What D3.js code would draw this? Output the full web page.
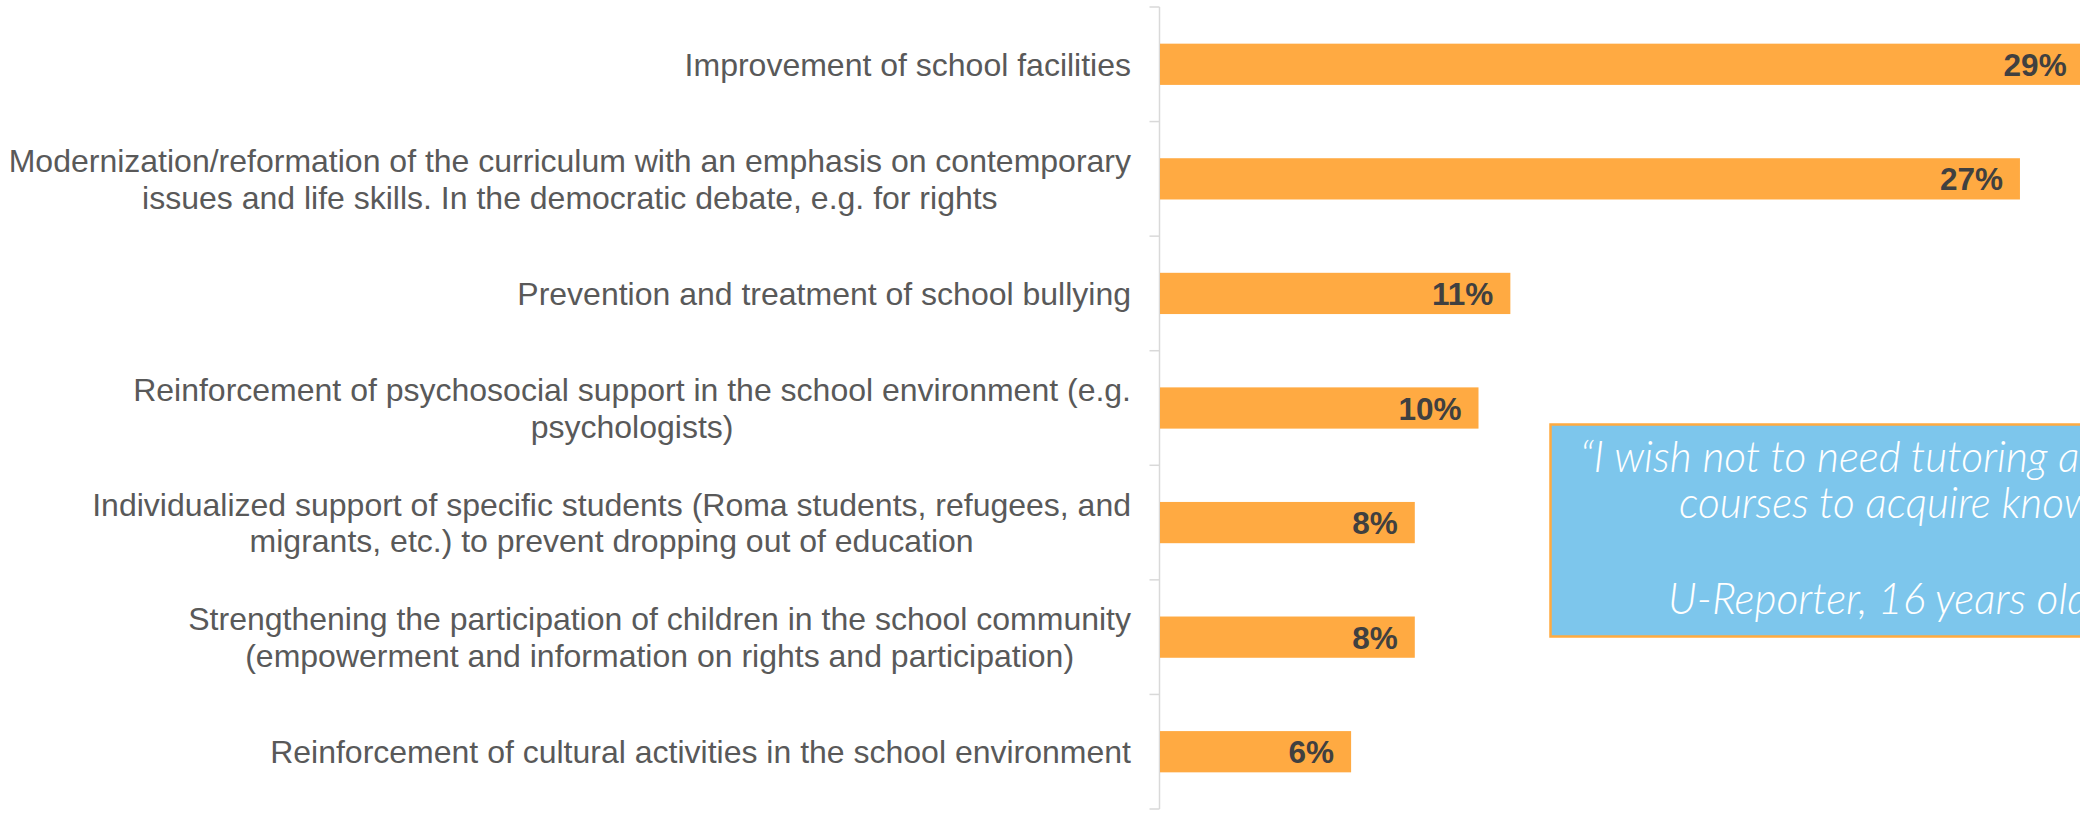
<!DOCTYPE html>
<html>
<head>
<meta charset="utf-8">
<script src="https://cdn.jsdelivr.net/npm/d3@7"></script>
<style>
  html, body { margin: 0; padding: 0; background: #fff; overflow: hidden; }
  svg { display: block; }
</style>
</head>
<body>
<svg id="chart" width="2080" height="813"></svg>
<script>
// ---- data ----
const categories = [
  ["Improvement of school facilities"],
  ["Modernization/reformation of the curriculum with an emphasis on contemporary", "issues and life skills. In the democratic debate, e.g. for rights"],
  ["Prevention and treatment of school bullying"],
  ["Reinforcement of psychosocial support in the school environment (e.g.", "psychologists)"],
  ["Individualized support of specific students (Roma students, refugees, and", "migrants, etc.) to prevent dropping out of education"],
  ["Strengthening the participation of children in the school community", "(empowerment and information on rights and participation)"],
  ["Reinforcement of cultural activities in the school environment"]
];
const values = [29, 27, 11, 10, 8, 8, 6];
const valueLabels = ["29%", "27%", "11%", "10%", "8%", "8%", "6%"];
const quoteLines = ["\u201CI wish not to need tutoring and private", "courses to acquire knowledge\u201D", "", "U-Reporter, 16 years old"];

// ---- layout ----
const W = 2080, H = 813;
const axisX = 1159.5;
const svg = d3.select("#chart");

const ids = categories.map((c, i) => i);
const y = d3.scaleBand().domain(ids).range([7, 809]).padding(0);
const x = d3.scaleLinear().domain([0, 30]).range([axisX + 0.5, axisX + 0.5 + 955.5]);
const barH = y.step() * 0.36;

// axis line + ticks
const axisG = svg.append("g");
axisG.append("line")
  .attr("x1", axisX).attr("x2", axisX)
  .attr("y1", y.range()[0]).attr("y2", y.range()[1])
  .attr("stroke", "#d9d9d9").attr("stroke-width", 1.5);
const tickYs = ids.map(i => y(i)).concat([y.range()[1]]);
axisG.selectAll("line.tick").data(tickYs).enter().append("line")
  .attr("class", "tick")
  .attr("x1", axisX - 10).attr("x2", axisX)
  .attr("y1", d => d).attr("y2", d => d)
  .attr("stroke", "#d9d9d9").attr("stroke-width", 1.5);

// bars
svg.append("g").selectAll("rect").data(ids).enter().append("rect")
  .attr("x", x(0))
  .attr("y", i => y(i) + (y.step() - barH) / 2)
  .attr("width", i => x(values[i]) - x(0))
  .attr("height", barH)
  .attr("fill", "#FFAA42");

// value labels
svg.append("g").selectAll("text").data(ids).enter().append("text")
  .attr("x", i => x(values[i]) - 17)
  .attr("y", i => y(i) + y.step() / 2 + 11.5)
  .attr("text-anchor", "end")
  .attr("font-family", "Liberation Sans, Arial, sans-serif")
  .attr("font-weight", "bold")
  .attr("font-size", 31.5)
  .attr("fill", "#404040")
  .text(i => valueLabels[i]);

// category labels (block right-aligned, lines centred within block)
const labelRight = 1131;
const labelFs = 32;
const lineGap = 36.7;
const lg = svg.append("g")
  .attr("font-family", "Liberation Sans, Arial, sans-serif")
  .attr("font-size", labelFs)
  .attr("fill", "#595959");
ids.forEach(i => {
  const lines = categories[i];
  const cy = y(i) + y.step() / 2;
  const texts = lines.map((t, k) => lg.append("text")
    .attr("y", cy + 11.4 + (k - (lines.length - 1) / 2) * lineGap)
    .attr("text-anchor", "middle")
    .text(t));
  const maxW = d3.max(texts, t => t.node().getComputedTextLength());
  texts.forEach(t => t.attr("x", labelRight - maxW / 2));
});

// quote box
svg.append("rect")
  .attr("x", 1550.5).attr("y", 424.5)
  .attr("width", 700).attr("height", 212)
  .attr("fill", "#7DC6EC")
  .attr("stroke", "#FFAB40").attr("stroke-width", 2.5);

const qx = [1580, 1679, 0, 1668];
const qy = [472, 518, 0, 614];
const qg = svg.append("g")
  .attr("font-family", "Lato, 'Open Sans', sans-serif")
  .attr("font-style", "italic")
  .attr("font-weight", 300)
  .attr("font-size", 42.5)
  .attr("fill", "#ffffff");
quoteLines.forEach((t, k) => {
  if (!t) return;
  qg.append("text").attr("x", qx[k]).attr("y", qy[k]).text(t);
});
</script>
</body>
</html>
